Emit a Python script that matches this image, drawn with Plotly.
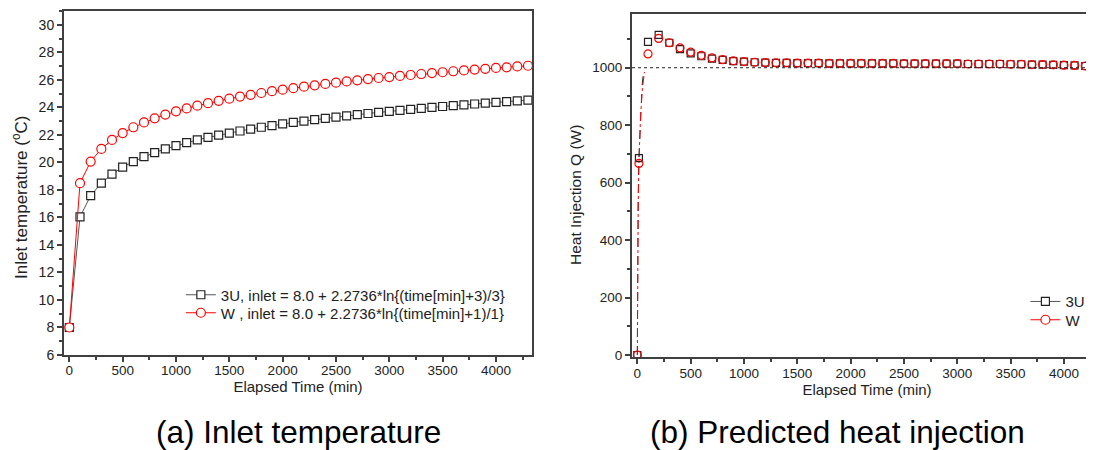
import plotly.graph_objects as go

# ---- (a) inlet temperature, one point every 100 min
time_a = [t * 100 for t in range(44)]
inlet_3u = [8.00, 16.04, 17.58, 18.49, 19.14, 19.65, 20.06, 20.41, 20.71, 20.98,
            21.21, 21.43, 21.63, 21.81, 21.98, 22.13, 22.28, 22.42, 22.55, 22.67,
            22.79, 22.90, 23.00, 23.10, 23.20, 23.29, 23.38, 23.47, 23.55, 23.63,
            23.71, 23.78, 23.85, 23.92, 23.99, 24.06, 24.12, 24.18, 24.24, 24.30,
            24.36, 24.42, 24.47, 24.53]
inlet_w = [8.00, 18.49, 20.06, 20.98, 21.63, 22.13, 22.55, 22.90, 23.20, 23.47,
           23.71, 23.92, 24.12, 24.30, 24.47, 24.63, 24.78, 24.91, 25.04, 25.17,
           25.28, 25.39, 25.50, 25.60, 25.70, 25.79, 25.88, 25.96, 26.05, 26.13,
           26.20, 26.28, 26.35, 26.42, 26.49, 26.55, 26.62, 26.68, 26.74, 26.80,
           26.86, 26.91, 26.97, 27.02]

# ---- (b) predicted heat injection
time_b = [0, 15] + [t * 100 for t in range(1, 44)]
q_3u = [0, 685, 1090, 1114, 1087, 1065, 1050, 1040, 1032, 1027, 1023, 1021, 1019,
        1018, 1017, 1017, 1016, 1016, 1016, 1015, 1015, 1015, 1015, 1015, 1015,
        1015, 1014, 1014, 1014, 1014, 1014, 1014, 1013, 1013, 1013, 1013, 1012,
        1012, 1011, 1011, 1010, 1009, 1008, 1006, 1004]
q_w = [0, 667, 1048, 1102, 1087, 1069, 1054, 1043, 1034, 1028, 1024, 1021, 1019,
       1018, 1017, 1017, 1016, 1016, 1016, 1015, 1015, 1015, 1015, 1015, 1015,
       1015, 1014, 1014, 1014, 1014, 1014, 1014, 1013, 1013, 1013, 1013, 1012,
       1012, 1011, 1011, 1010, 1009, 1008, 1006, 1004]
# fine-step start-up curves
time_fine_3u = [0, 3, 8, 15, 30, 45, 60]
q_fine_3u = [0, 300, 550, 685, 850, 940, 990]
time_fine_w = [0, 3, 8, 15, 30, 48, 67]
q_fine_w = [0, 280, 520, 667, 830, 930, 985]
q_design = 1000

FONT = "Arial, Liberation Sans, sans-serif"
BLACK = "#222222"
RED = "#ff0000"
AX = "#404040"
W_FIG, H_FIG = 1094, 450
OFF = 8  # page body margin


def px(x):
    # screen x pixel -> paper fraction
    return (x - OFF) / W_FIG


def py(y):
    # screen y pixel -> paper fraction
    return 1 - (y - OFF) / H_FIG


fig = go.Figure()

# (a)
fig.add_trace(go.Scatter(
    x=time_a, y=inlet_3u, mode="lines+markers", xaxis="x", yaxis="y",
    name="3U, inlet = 8.0 + 2.2736*ln{(time[min]+3)/3}", legend="legend",
    line=dict(color="#555555", width=1),
    marker=dict(symbol="square", size=8, color="white", line=dict(color=BLACK, width=1.2))
))
fig.add_trace(go.Scatter(
    x=time_a, y=inlet_w, mode="lines+markers", xaxis="x", yaxis="y",
    name="W , inlet = 8.0 + 2.2736*ln{(time[min]+1)/1}", legend="legend3",
    line=dict(color=RED, width=1),
    marker=dict(symbol="circle", size=9, color="white", line=dict(color=RED, width=1.2))
))

# (b)
fig.add_trace(go.Scatter(
    x=time_fine_3u, y=q_fine_3u, mode="lines", xaxis="x2", yaxis="y2",
    line=dict(color=BLACK, width=1, dash="dash"), showlegend=False
))
fig.add_trace(go.Scatter(
    x=time_fine_w, y=q_fine_w, mode="lines", xaxis="x2", yaxis="y2",
    line=dict(color=RED, width=1, dash="dashdot"), showlegend=False
))
fig.add_trace(go.Scatter(
    x=time_b, y=q_3u, mode="markers", xaxis="x2", yaxis="y2", showlegend=False,
    marker=dict(symbol="square", size=7, color="rgba(0,0,0,0)", line=dict(color=BLACK, width=1.2))
))
fig.add_trace(go.Scatter(
    x=time_b, y=q_w, mode="markers", xaxis="x2", yaxis="y2", showlegend=False,
    marker=dict(symbol="circle", size=8, color="rgba(0,0,0,0)", line=dict(color=RED, width=1.2))
))
# legend entries for (b)
fig.add_trace(go.Scatter(
    x=[None], y=[None], mode="lines+markers", xaxis="x2", yaxis="y2", name="3U",
    legend="legend2", line=dict(color="#555555", width=1),
    marker=dict(symbol="square", size=8, color="white", line=dict(color=BLACK, width=1.2))
))
fig.add_trace(go.Scatter(
    x=[None], y=[None], mode="lines+markers", xaxis="x2", yaxis="y2", name="W",
    legend="legend4", line=dict(color=RED, width=1),
    marker=dict(symbol="circle", size=9, color="white", line=dict(color=RED, width=1.2))
))
fig.add_hline(y=q_design, xref="x2", yref="y2", line=dict(color=BLACK, width=1, dash="dot"))

axis_common = dict(
    showline=True, linecolor=AX, linewidth=2, ticks="outside", ticklen=5,
    tickwidth=1.5, tickcolor=AX, showgrid=False, zeroline=False, automargin=False,
    tickfont=dict(family=FONT, size=13.5, color="#222222"),
    title_font=dict(family=FONT, size=15, color="#222222"),
)
legend_common = dict(
    xanchor="left", yanchor="middle", bgcolor="rgba(0,0,0,0)",
    font=dict(family=FONT, size=15, color="#222222"), itemwidth=30,
)

fig.update_layout(
    width=W_FIG, height=H_FIG,
    margin=dict(l=0, r=0, t=0, b=0),
    paper_bgcolor="white", plot_bgcolor="white",
    font=dict(family=FONT, size=13, color="#222222"),
    xaxis=dict(
        axis_common, domain=[px(64), px(532)], anchor="y", range=[-50, 4338],
        dtick=500, tick0=0, mirror=True, ticklabelstandoff=-3,
        minor=dict(dtick=250, tick0=0, ticks="outside", ticklen=3, tickcolor=AX),
        title=dict(text="Elapsed Time (min)", standoff=0),
    ),
    yaxis=dict(
        axis_common, domain=[py(355), py(11)], anchor="x", range=[6, 31],
        dtick=2, tick0=6, mirror=True, tickfont_size=14,
        minor=dict(dtick=1, tick0=6, ticks="outside", ticklen=3, tickcolor=AX),
    ),
    xaxis2=dict(
        axis_common, domain=[px(632), 1.0], anchor="y2", range=[-50, 4357],
        dtick=500, tick0=0, mirror=True, ticklabelstandoff=-3,
        minor=dict(dtick=250, tick0=0, ticks="outside", ticklen=3, tickcolor=AX),
        title=dict(text="Elapsed Time (min)", standoff=0),
    ),
    yaxis2=dict(
        axis_common, domain=[py(357.3), py(14)], anchor="x2", range=[-8, 1187],
        dtick=200, tick0=0,
        minor=dict(dtick=100, tick0=0, ticks="outside", ticklen=3, tickcolor=AX),
    ),
    legend=dict(legend_common, x=0.158, y=py(295)),
    legend3=dict(legend_common, x=0.158, y=py(313)),
    legend2=dict(legend_common, x=0.93, y=py(301.7)),
    legend4=dict(legend_common, x=0.93, y=py(320)),
    annotations=[
        # y axis titles
        dict(text="Inlet temperature (<sup>o</sup>C)", x=px(20), y=py(198), xref="paper",
             yref="paper", showarrow=False, textangle=-90,
             font=dict(family=FONT, size=17, color="#222222"),
             xanchor="center", yanchor="middle"),
        dict(text="Heat Injection Q (W)", x=px(575), y=py(195), xref="paper",
             yref="paper", showarrow=False, textangle=-90,
             font=dict(family=FONT, size=15.5, color="#222222"),
             xanchor="center", yanchor="middle"),
        # panel captions
        dict(text="(a) Inlet temperature", x=px(298), y=py(432), xref="paper", yref="paper",
             showarrow=False, font=dict(family=FONT, size=31.5, color="black"),
             xanchor="center", yanchor="middle"),
        dict(text="(b) Predicted heat injection", x=px(837), y=py(432), xref="paper", yref="paper",
             showarrow=False, font=dict(family=FONT, size=31.5, color="black"),
             xanchor="center", yanchor="middle"),
    ],
)

fig.write_html("out.html")
